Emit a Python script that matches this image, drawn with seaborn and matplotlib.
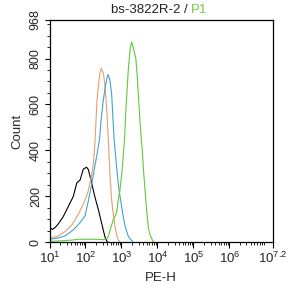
import numpy as np
import pandas as pd
import matplotlib
matplotlib.use("Agg")
import matplotlib.pyplot as plt
import matplotlib.ticker as mticker
import seaborn as sns

# ---- data (log10 of PE-H intensity, event count) ----
black_log = [1.01, 1.08, 1.15, 1.24, 1.38, 1.52, 1.66, 1.76, 1.85, 1.94, 2.03, 2.08, 2.17, 2.26, 2.36, 2.45, 2.54, 2.59, 2.62]
black_cnt = [64, 55, 62, 78, 110, 154, 198, 258, 270, 318, 326, 316, 258, 198, 140, 82, 23, 5, 0]

orange_log = [1.01, 1.24, 1.43, 1.62, 1.79, 1.94, 2.03, 2.08, 2.17, 2.22, 2.26, 2.29, 2.32, 2.36, 2.40, 2.44, 2.47, 2.50,
              2.54, 2.59, 2.63, 2.68, 2.72, 2.75, 2.82, 2.87, 2.91, 2.96]
orange_cnt = [16, 26, 45, 74, 118, 165, 200, 225, 290, 340, 420, 520, 612, 685, 735, 757, 745, 735,
              685, 583, 460, 300, 200, 150, 67, 30, 9, 2]

blue_log = [1.01, 1.25, 1.43, 1.60, 1.71, 1.85, 1.99, 2.08, 2.17, 2.26, 2.31, 2.39, 2.43, 2.49, 2.56, 2.60, 2.63,
            2.68, 2.73, 2.77, 2.80, 2.87, 2.93, 3.00, 3.05, 3.10, 3.19, 3.28, 3.32]
blue_cnt = [12, 18, 26, 45, 60, 85, 115, 180, 250, 330, 372, 445, 525, 612, 685, 715, 730,
            706, 641, 520, 440, 320, 230, 160, 110, 70, 25, 7, 0]

green_log = [1.01, 1.30, 1.60, 1.80, 2.10, 2.30, 2.50, 2.60, 2.63, 2.77, 2.87, 2.91, 2.96, 3.01, 3.05, 3.09, 3.125,
             3.16, 3.19, 3.24, 3.28, 3.35, 3.40, 3.44, 3.49, 3.54, 3.58, 3.62, 3.66, 3.70, 3.75, 3.80, 3.87, 3.90]
green_cnt = [3, 5, 8, 12, 12, 12, 10, 15, 23, 96, 130, 183, 227, 300, 370, 460, 583,
             670, 750, 836, 873, 835, 801, 720, 590, 470, 400, 300, 220, 140, 60, 30, 5, 0]

series_names = ["black", "orange", "blue", "green"]
series_colors = ["#000000", "#E3A06E", "#3FA3D6", "#5FCB3A"]

x_tick_exps = [1, 2, 3, 4, 5, 6, 7.2]
x_tick_labels = ["1", "2", "3", "4", "5", "6", "7.2"]
y_ticks = [0, 200, 400, 600, 800, 968]
y_tick_labels = ["0", "200", "400", "600", "800", "968"]

title_main = "bs-3822R-2 / "
title_gate = "P1"
x_label = "PE-H"
y_label = "Count"

# ---- build table ----
frames = []
for name, lg, ct in [("black", black_log, black_cnt), ("orange", orange_log, orange_cnt),
                     ("blue", blue_log, blue_cnt), ("green", green_log, green_cnt)]:
    frames.append(pd.DataFrame({"x": np.power(10.0, lg), "count": ct, "series": name}))
df = pd.concat(frames, ignore_index=True)

sns.set_style("white")
plt.rcParams["font.family"] = ["Liberation Sans", "DejaVu Sans"]
plt.rcParams["mathtext.fontset"] = "custom"
plt.rcParams["mathtext.rm"] = "Liberation Sans"
plt.rcParams["mathtext.it"] = "Liberation Sans"
plt.rcParams["mathtext.bf"] = "Liberation Sans"

fig = plt.figure(figsize=(2.88, 2.97), dpi=100)
fig.patch.set_facecolor("white")
ax = fig.add_axes([49.5 / 288, 55 / 297, 223 / 288, 222 / 297])

sns.lineplot(data=df, x="x", y="count", hue="series", hue_order=series_names,
             palette=dict(zip(series_names, series_colors)), sort=False,
             linewidth=0.8, legend=False, ax=ax)

ax.set_xscale("log")
ax.set_xlim(10 ** 1, 10 ** 7.2)
ax.set_ylim(0, 968)

ax.xaxis.set_major_locator(mticker.FixedLocator([10 ** e for e in x_tick_exps]))
ax.xaxis.set_major_formatter(mticker.FixedFormatter([r"$10^{%s}$" % l for l in x_tick_labels]))
ax.xaxis.set_minor_locator(mticker.LogLocator(base=10, subs=np.arange(2, 10), numticks=20))
ax.xaxis.set_minor_formatter(mticker.NullFormatter())

ax.yaxis.set_major_locator(mticker.FixedLocator(y_ticks))
ax.yaxis.set_major_formatter(mticker.FixedFormatter(y_tick_labels))
ax.yaxis.set_minor_locator(mticker.MultipleLocator(50))

ax.tick_params(axis="both", which="both", direction="out", color="black",
               bottom=True, left=True, top=False, right=False)
ax.tick_params(axis="x", which="major", length=4.5, width=0.8, labelsize=9.5, pad=2)
ax.tick_params(axis="x", which="minor", length=2.5, width=0.6)
ax.tick_params(axis="y", which="major", length=3.5, width=0.8, labelsize=9, pad=2)
ax.tick_params(axis="y", which="minor", length=2.0, width=0.6)
for lbl in ax.get_yticklabels():
    lbl.set_rotation(90)
    lbl.set_va("center")

for sp in ax.spines.values():
    sp.set_visible(True)
    sp.set_color("black")
    sp.set_linewidth(0.9)

ax.set_xlabel(x_label, fontsize=9.5, labelpad=4)
ax.set_ylabel(y_label, fontsize=9.5, labelpad=5)

fig.text(191 / 288, 1 - 10 / 297, title_main, ha="right", va="center", fontsize=9.5, color="#222222")
fig.text(191 / 288, 1 - 10 / 297, title_gate, ha="left", va="center", fontsize=9.5, color="#6CCB45")

fig.savefig("out.png", dpi=100, facecolor="white")
